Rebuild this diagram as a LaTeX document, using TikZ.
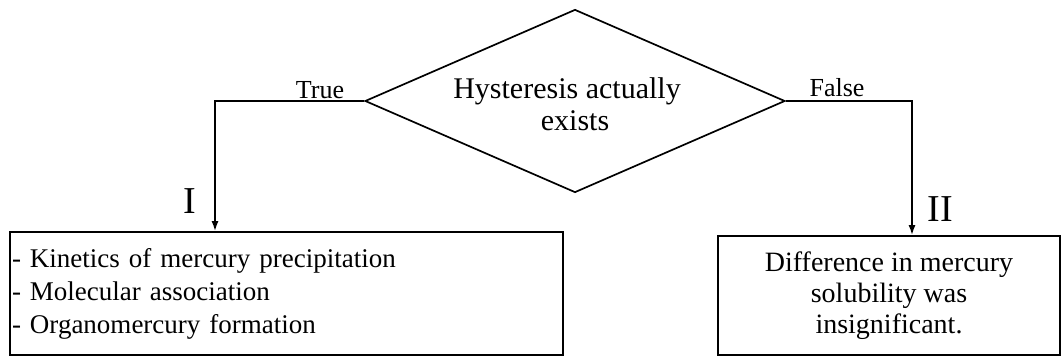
\documentclass[tikz,border=0pt]{standalone}
\usepackage{fontspec}
\setmainfont{Liberation Serif}
\usetikzlibrary{calc}
\usetikzlibrary{shapes.geometric,arrows.meta}

\begin{document}
\begin{tikzpicture}[x=0.5pt, y=-0.5pt,
  box/.style={draw, line width=\framewidth, inner sep=1pt},
  flow/.style={line width=\framewidth, -{Latex[length=5pt, width=3.5pt]}}]
\pgfmathsetmacro{\framewidth}{0.85pt}
\pgfmathsetmacro{\decisionwidth}{210}
\pgfmathsetmacro{\decisionheight}{91.5}
\pgfmathsetmacro{\leftdrop}{215}
\pgfmathsetmacro{\rightdrop}{912}

\useasboundingbox (0, 0) rectangle (1063, 358);

\node (decision) at (575, 101) [box, diamond, aspect=2.3, inner sep=0pt, minimum width=\decisionwidth pt, minimum height=\decisionheight pt, align=center, font=\fontsize{15}{16}\selectfont] {\rule{0pt}{13.2pt}Hysteresis actually\hspace*{8pt}\\exists};
\node (causes) at (286.5, 293.5) [box, minimum width=276.5pt, minimum height=61.5pt, text width=274.5pt, align=left, font=\fontsize{13.5}{16.5}\selectfont] {- Kinetics of mercury precipitation\\- Molecular association\\- Organomercury formation};
\node (result) at (889, 295.5) [box, minimum width=171pt, minimum height=59.5pt, align=center, font=\fontsize{14}{15.5}\selectfont] {Difference in mercury\\solubility was\\insignificant.};

\coordinate (true_x) at (\leftdrop, 0);
\coordinate (false_x) at (\rightdrop, 0);
\draw [flow] (decision.west) -| (true_x |- causes.north);
\draw [flow] (decision.east) -| (false_x |- result.north);

\node (true_label) at (320, 98) [anchor=base, inner sep=0pt, font=\fontsize{13}{13}\selectfont] {True};
\node (false_label) at (837, 97) [anchor=base, inner sep=0pt, font=\fontsize{13}{13}\selectfont] {False};
\node (case_one) at (190, 213) [anchor=base, inner sep=0pt, font=\fontsize{19}{19}\selectfont] {I};
\node (case_two) at (940, 221) [anchor=base, inner sep=0pt, font=\fontsize{19}{19}\selectfont] {II};
\end{tikzpicture}
\end{document}
